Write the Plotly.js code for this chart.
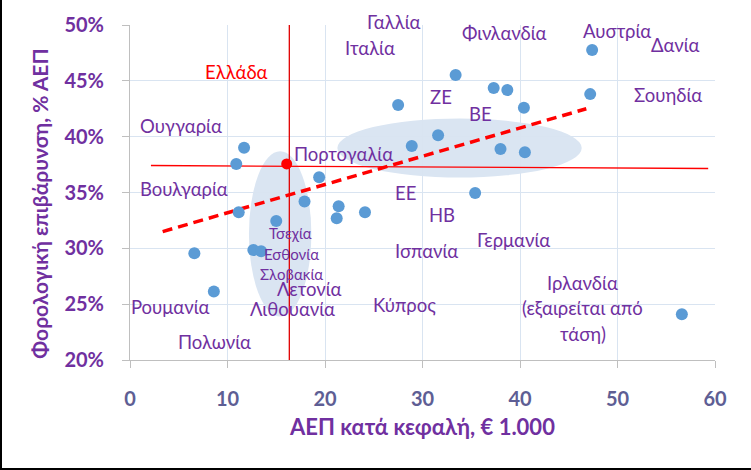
<!DOCTYPE html>
<html>
<head>
<meta charset="utf-8">
<script src="https://cdn.plot.ly/plotly-3.0.1.min.js"></script>
<style>
  html, body { margin: 0; padding: 0; background: #fff; }
  #wrap { position: relative; width: 751px; height: 470px; }
  #chart { width: 751px; height: 470px; }
  #bl { position: absolute; left: 0; top: 0; width: 2px; height: 470px; background: #000; }
  #bb { position: absolute; left: 0; bottom: 0; width: 751px; height: 2px; background: #000; }
</style>
</head>
<body>
<div id="wrap"><div id="chart"></div><div id="bl"></div><div id="bb"></div></div>
<script>
// GDP per capita (thousand €) and tax burden (% of GDP), EU countries
const gdpPerCapita = [11.7, 10.9, 19.4, 17.9, 11.15, 21.4, 21.2, 24.1, 15.0,
                      27.5, 33.4, 37.3, 38.7, 40.4, 47.4, 47.2, 31.6, 28.9, 38.0, 40.5, 35.4,
                      6.6, 8.6, 12.65, 13.45, 56.6];
const taxBurden = [39.0, 37.56, 36.37, 34.2, 33.23, 33.77, 32.69, 33.23, 32.45,
                   42.83, 45.52, 44.35, 44.17, 42.58, 47.76, 43.81, 40.13, 39.17, 38.9, 38.61, 34.96,
                   29.55, 26.14, 29.85, 29.73, 24.1];
const greeceGdp = [16.07];
const greeceTax = [37.56];
// trend line (excluding Ireland)
const trendX = [3.35, 46.8];
const trendY = [31.5, 42.5];
// Greece reference lines
const greeceHX = [2.15, 59.3];
const greeceHY = [37.42, 37.15];
const greeceVX = [16.34, 16.34];
const greeceVY = [20, 50];
// axis ticks
const xTicks = [0, 10, 20, 30, 40, 50, 60];
const yTicks = [20, 25, 30, 35, 40, 45, 50];

const PURPLE = '#7030A0';
const FONT = 'Lato, "Noto Sans", sans-serif';

const traces = [
  { x: greeceHX, y: greeceHY, mode: 'lines', line: { color: '#FF0000', width: 1.3 }, hoverinfo: 'skip' },
  { x: greeceVX, y: greeceVY, mode: 'lines', line: { color: '#E00000', width: 1.3 }, hoverinfo: 'skip' },
  { x: trendX, y: trendY, mode: 'lines', line: { color: '#FF0000', width: 3.5, dash: '10px,6px' }, hoverinfo: 'skip' },
  { x: gdpPerCapita, y: taxBurden, mode: 'markers', marker: { color: '#5B9BD5', size: 12 } },
  { x: greeceGdp, y: greeceTax, mode: 'markers', marker: { color: '#FF0000', size: 11 } }
];

function lab(text, x, y, size, color) {
  return { text: text, x: x, y: y, xref: 'x', yref: 'y', showarrow: false,
           xanchor: 'center', yanchor: 'middle',
           font: { family: FONT, size: size || 18.5, color: color || PURPLE } };
}

const gallia = lab('Γαλλία', 27.1, 50);
gallia.yshift = 3.5;

const annotations = [
  gallia,
  lab('Ιταλία', 24.6, 47.97),
  lab('Φινλανδία', 38.46, 49.26),
  lab('Αυστρία', 49.9, 49.46),
  lab('Δανία', 55.9, 48.2),
  lab('Σουηδία', 55.2, 43.7),
  lab('ΖΕ', 31.9, 43.57),
  lab('ΒΕ', 35.9, 42.0),
  lab('ΕΕ', 28.3, 34.96),
  lab('ΗΒ', 32.0, 32.96),
  lab('Γερμανία', 39.35, 30.72),
  lab('Ισπανία', 30.4, 29.73),
  lab('Ιρλανδία', 46.45, 26.92),
  lab('(εξαιρείται από', 46.45, 24.68),
  lab('τάση)', 46.45, 22.35),
  lab('Κύπρος', 28.2, 24.89),
  lab('Ελλάδα', 10.94, 45.8, 18.5, '#FF0000'),
  lab('Ουγγαρία', 5.21, 40.94),
  lab('Πορτογαλία', 21.85, 38.45),
  lab('Βουλγαρία', 5.56, 35.3),
  lab('Τσεχία', 16.5, 31.35, 15),
  lab('Εσθονία', 16.6, 29.52, 15),
  lab('Σλοβακία', 16.6, 27.67, 15),
  lab('Λετονία', 18.43, 26.32),
  lab('Λιθουανία', 16.7, 24.53),
  lab('Ρουμανία', 4.2, 24.74),
  lab('Πολωνία', 8.63, 21.6),
  { text: '<b>Φορολογική επιβάρυνση, % ΑΕΠ</b>', xref: 'paper', yref: 'paper',
    x: -0.155, y: 0.5, xanchor: 'center', yanchor: 'middle', textangle: -90, showarrow: false,
    yshift: -11, font: { family: FONT, size: 21, color: PURPLE } }
];

const shapes = [
  { type: 'circle', xref: 'x', yref: 'y', x0: 12.2, x1: 18.6, y0: 23.9, y1: 38.7,
    fillcolor: '#DAE5F2', line: { width: 0 }, layer: 'below' },
  { type: 'circle', xref: 'x', yref: 'y', x0: 21.27, x1: 46.33, y0: 36.34, y1: 41.63,
    fillcolor: '#DAE5F2', line: { width: 0 }, layer: 'below' }
];

const layout = {
  width: 751, height: 470,
  margin: { l: 130, r: 36, t: 25, b: 110 },
  paper_bgcolor: '#fff', plot_bgcolor: '#fff',
  showlegend: false,
  font: { family: FONT, color: PURPLE },
  xaxis: {
    range: [0, 60], tickvals: xTicks, ticktext: xTicks.map(String),
    showgrid: true, gridcolor: '#D9E4F1', gridwidth: 1,
    zeroline: false, showline: true, linecolor: '#BFBFBF', linewidth: 1,
    ticks: 'outside', ticklen: 7, tickcolor: '#BFBFBF', ticklabelstandoff: 14,
    tickfont: { family: FONT, size: 20, color: '#5E5E94', weight: 'bold' },
    title: { text: '<b>ΑΕΠ κατά κεφαλή, € 1.000</b>', standoff: 10,
             font: { family: FONT, size: 22, color: PURPLE } }
  },
  yaxis: {
    range: [20, 50], tickvals: yTicks, ticktext: yTicks.map(v => v + '%'),
    showgrid: true, gridcolor: '#D9E4F1', gridwidth: 1,
    zeroline: false, showline: true, linecolor: '#BFBFBF', linewidth: 1,
    ticks: 'outside', ticklen: 7, tickcolor: '#BFBFBF', ticklabelstandoff: 14,
    tickfont: { family: FONT, size: 20, color: PURPLE, weight: 'bold' }
  },
  annotations: annotations,
  shapes: shapes
};

Plotly.newPlot('chart', traces, layout, { displayModeBar: false, staticPlot: true });
</script>
</body>
</html>
